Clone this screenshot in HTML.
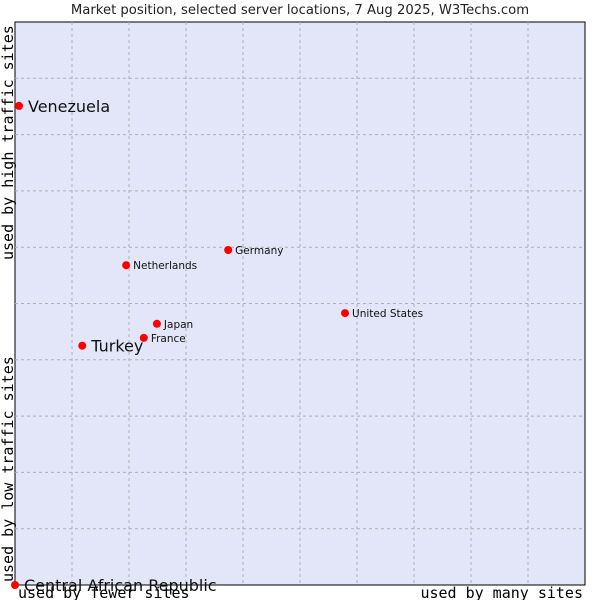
<!DOCTYPE html>
<html><head><meta charset="utf-8"><style>
body{margin:0;background:#fff;width:600px;height:600px;overflow:hidden}
svg{font-family:"DejaVu Sans","Liberation Sans",sans-serif}
</style></head><body>
<svg id="chart" width="600" height="600" viewBox="0 0 600 600">
<text x="300" y="14" text-anchor="middle" font-size="13.2" fill="#222">Market position, selected server locations, 7 Aug 2025, W3Techs.com</text>
<rect x="15" y="22" width="570" height="563" fill="#e3e5f8" stroke="#000" stroke-width="1"/>
<g id="grid"></g>
<g id="marks"></g>
<text transform="translate(13,260) rotate(-90)" font-family="DejaVu Sans Mono,Liberation Mono,monospace" font-size="15" fill="#000">used by high traffic sites</text>
<text transform="translate(13,582) rotate(-90)" font-family="DejaVu Sans Mono,Liberation Mono,monospace" font-size="15" fill="#000">used by low traffic sites</text>
<text x="18" y="598" font-family="DejaVu Sans Mono,Liberation Mono,monospace" font-size="15" fill="#000">used by fewer sites</text>
<text x="583" y="598" text-anchor="end" font-family="DejaVu Sans Mono,Liberation Mono,monospace" font-size="15" fill="#000">used by many sites</text>
</svg>
<script>
const countries=["Venezuela","Central African Republic","Turkey","France","Japan","Netherlands","Germany","United States"];
const xValues=[0.7,0,11.8,22.6,24.9,19.5,37.4,57.9];
const yValues=[85.1,0,42.5,43.9,46.4,56.8,59.5,48.3];
const bigLabel=[true,true,true,false,false,false,false,false];
const ns="http://www.w3.org/2000/svg";
const X0=15,X1=585,Y0=585,Y1=22;
const sx=v=>X0+(X1-X0)*v/100;
const sy=v=>Y0-(Y0-Y1)*v/100;
const grid=document.getElementById('grid');
for(let i=1;i<10;i++){
  const l=document.createElementNS(ns,'line');
  
  
  const x=sx(i*10);
  l.setAttribute('x1',x);l.setAttribute('x2',x);l.setAttribute('y1',Y1);l.setAttribute('y2',Y0);
  l.setAttribute('stroke','#b0b0b0');l.setAttribute('stroke-dasharray','3,3');
  grid.appendChild(l);
  const h=document.createElementNS(ns,'line');
  
  
  const y=sy(i*10);
  h.setAttribute('x1',X0);h.setAttribute('x2',X1);h.setAttribute('y1',y);h.setAttribute('y2',y);
  h.setAttribute('stroke','#b0b0b0');h.setAttribute('stroke-dasharray','3,3');
  grid.appendChild(h);
}
const marks=document.getElementById('marks');
countries.forEach((c,i)=>{
  const x=sx(xValues[i]),y=sy(yValues[i]);
  const d=document.createElementNS(ns,'circle');
  
  
  d.setAttribute('cx',x);d.setAttribute('cy',y);d.setAttribute('r',4);d.setAttribute('fill','#f00');
  marks.appendChild(d);
  const t=document.createElementNS(ns,'text');
  
  
  t.setAttribute('x',x+(bigLabel[i]?9:7));
  t.setAttribute('y',y+(bigLabel[i]?6:4));
  t.setAttribute('font-size',bigLabel[i]?16:10.5);
  t.setAttribute('fill','#111');
  t.textContent=c;
  marks.appendChild(t);
});
</script>
</body></html>
